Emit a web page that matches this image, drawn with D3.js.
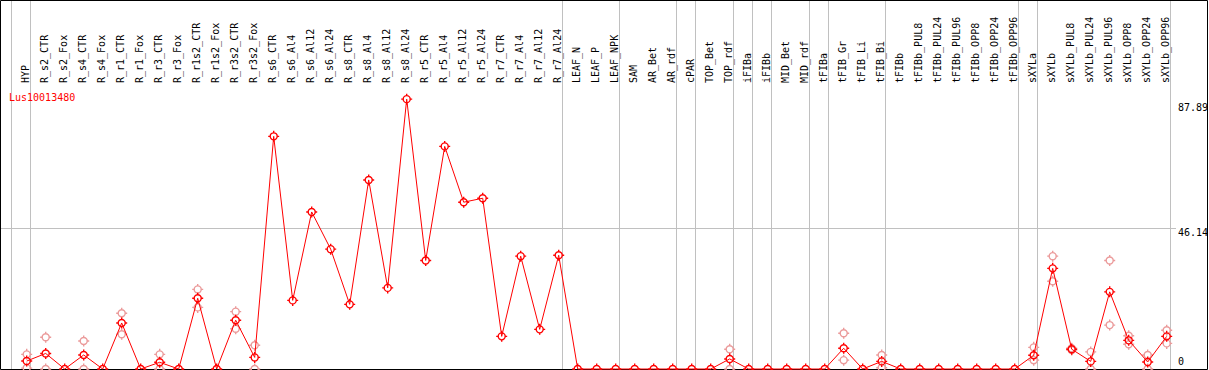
<!DOCTYPE html>
<meta charset="utf-8">
<style>
    body {
        margin: 0;
        overflow: hidden;
        background: #fff;
    }
    text {
        font-family: "DejaVu Sans Mono", monospace;
        font-size: 10px;
    }
</style>
<svg id="canvas" width="1209" height="370"></svg>
<script src="https://cdn.jsdelivr.net/npm/d3@7"></script>
<script>

    var gene = "Lus10013480";

    var categories = ["HYP",
        "R_s2_CTR", "R_s2_Fox", "R_s4_CTR", "R_s4_Fox", "R_r1_CTR", "R_r1_Fox", "R_r3_CTR", "R_r3_Fox",
        "R_r1s2_CTR", "R_r1s2_Fox", "R_r3s2_CTR", "R_r3s2_Fox", "R_s6_CTR", "R_s6_Al4", "R_s6_Al12", "R_s6_Al24",
        "R_s8_CTR", "R_s8_Al4", "R_s8_Al12", "R_s8_Al24", "R_r5_CTR", "R_r5_Al4", "R_r5_Al12", "R_r5_Al24",
        "R_r7_CTR", "R_r7_Al4", "R_r7_Al12", "R_r7_Al24",
        "LEAF_N", "LEAF_P", "LEAF_NPK", "SAM", "AR_Bet", "AR_rdf", "cPAR", "TOP_Bet", "TOP_rdf",
        "iFIBa", "iFIBb", "MID_Bet", "MID_rdf", "tFIBa", "tFIB_Gr", "tFIB_Li", "tFIB_Bi",
        "tFIBb", "tFIBb_PUL8", "tFIBb_PUL24", "tFIBb_PUL96", "tFIBb_OPP8", "tFIBb_OPP24", "tFIBb_OPP96",
        "sXYLa", "sXYLb", "sXYLb_PUL8", "sXYLb_PUL24", "sXYLb_PUL96", "sXYLb_OPP8", "sXYLb_OPP24", "sXYLb_OPP96"];

    // number of categories in each tissue group (separator after each)
    var groupSizes = [1, 28, 3, 3, 1, 2, 1, 1, 2, 1, 3, 7, 1, 7];

    // mean expression
    var meanValues = [2.6, 5.1, 0, 4.6, 0, 15.1, 0, 2.2, 0, 23.2, 0, 16.0, 3.8,
        76.3, 22.5, 51.5, 39.3, 21.2, 62.0, 26.6, 88.5, 35.6, 73.0, 54.7, 56.0, 10.7, 37.0, 13.0, 37.3,
        0, 0, 0, 0, 0, 0, 0, 0, 3.3,
        0, 0, 0, 0, 0, 6.8, 0, 2.5,
        0, 0, 0, 0, 0, 0, 0,
        4.5, 33.0, 6.5, 2.5, 25.3, 9.4, 2.3, 10.7];

    // replicates
    var rep1 = [4.8, 10.4, null, 9.2, null, 18.3, null, 4.8, null, 26.1, null, 18.8, 7.8,
        null, null, null, null, null, null, null, null, null, null, null, null, null, null, null, null,
        null, null, null, null, null, null, null, null, 6.5,
        null, null, null, null, null, 11.7, null, 4.6,
        null, null, null, null, null, null, null,
        7.1, 37.0, 6.8, 5.6, 35.6, 10.9, 4.6, 12.7];

    var rep2 = [0.3, 0, null, 0, null, 11.4, null, 0, null, 20.2, null, 13.2, 0,
        null, null, null, null, null, null, null, null, null, null, null, null, null, null, null, null,
        null, null, null, null, null, null, null, null, 0,
        null, null, null, null, null, 2.9, null, 0.4,
        null, null, null, null, null, null, null,
        2.9, 28.8, 6.2, 0, 14.4, 8.1, 0, 8.4];

    var yLabels = [0, 46.14, 87.89];
    var yGrid = [46.14];

    var svg = d3.select("svg"),
        width = 1209,
        height = 370,
        top = 85,
        bottom = 369;

    var x = d3.scaleLinear().domain([0, categories.length - 1]).range([26.7, 1166.7]);
    var y = d3.scaleLinear().domain([0, 92.28]).range([bottom, 87.6]);

    // separators: before first column and after each group
    var sepIdx = [-1], acc = -1;
    groupSizes.forEach(function(n) { acc += n; sepIdx.push(acc); });

    svg.append("g")
       .selectAll("line")
       .data(sepIdx)
       .enter().append("line")
       .attr("x1", function(d) { return Math.round(x(d) + 3.5) + 0.5; })
       .attr("x2", function(d) { return Math.round(x(d) + 3.5) + 0.5; })
       .attr("y1", 0)
       .attr("y2", bottom)
       .attr("stroke", "#c0c0c0");

    svg.append("g")
       .selectAll("line")
       .data(yGrid)
       .enter().append("line")
       .attr("x1", 0)
       .attr("x2", 1176)
       .attr("y1", function(d) { return Math.round(y(d)) + 0.5; })
       .attr("y2", function(d) { return Math.round(y(d)) + 0.5; })
       .attr("stroke", "#c0c0c0");

    // frame
    svg.append("path")
       .attr("d", "M0.5,0.5H1207.5V" + (bottom + 0.5) + "H0.5Z M0.5," + (top + 0.5) + "H1207.5")
       .attr("fill", "none")
       .attr("stroke", "#000");

    // column labels
    svg.append("g")
       .selectAll("text")
       .data(categories)
       .enter().append("text")
       .attr("transform", function(d, i) { return "translate(" + (x(i) + 2.5) + ",83) rotate(-90)"; })
       .attr("fill", "#000")
       .text(function(d) { return d; });

    // y labels on the right
    svg.append("g")
       .selectAll("text")
       .data(yLabels)
       .enter().append("text")
       .attr("x", 1178)
       .attr("y", function(d) { return Math.min(Math.max(y(d) + 8, 111), 365); })
       .attr("fill", "#000")
       .text(function(d) { return d; });

    svg.append("text")
       .attr("x", 9)
       .attr("y", 101)
       .attr("fill", "#ff0000")
       .text(gene);

    var marker = "M-3.5,0A3.5,3.5 0 1,0 3.5,0A3.5,3.5 0 1,0 -3.5,0" +
                 "M0,-5.5V-3M0,3V5.5M-5.5,0H-3M3,0H5.5";

    function drawPoints(values, color) {
        svg.append("g")
           .selectAll("path")
           .data(values.map(function(v, i) { return {i: i, v: v}; })
                       .filter(function(d) { return d.v !== null; }))
           .enter().append("path")
           .attr("transform", function(d) { return "translate(" + x(d.i) + "," + y(d.v) + ")"; })
           .attr("d", marker)
           .attr("fill", "none")
           .attr("stroke", color)
           .attr("stroke-width", 1.4);
    }

    drawPoints(rep1, "#eb9a9a");
    drawPoints(rep2, "#eb9a9a");

    var line = d3.line()
                 .x(function(d, i) { return x(i); })
                 .y(function(d) { return y(d); });

    svg.append("path")
       .datum(meanValues)
       .attr("d", line)
       .attr("fill", "none")
       .attr("stroke", "#ff0000")
       .attr("stroke-width", 1);

    drawPoints(meanValues, "#ff0000");

</script>
